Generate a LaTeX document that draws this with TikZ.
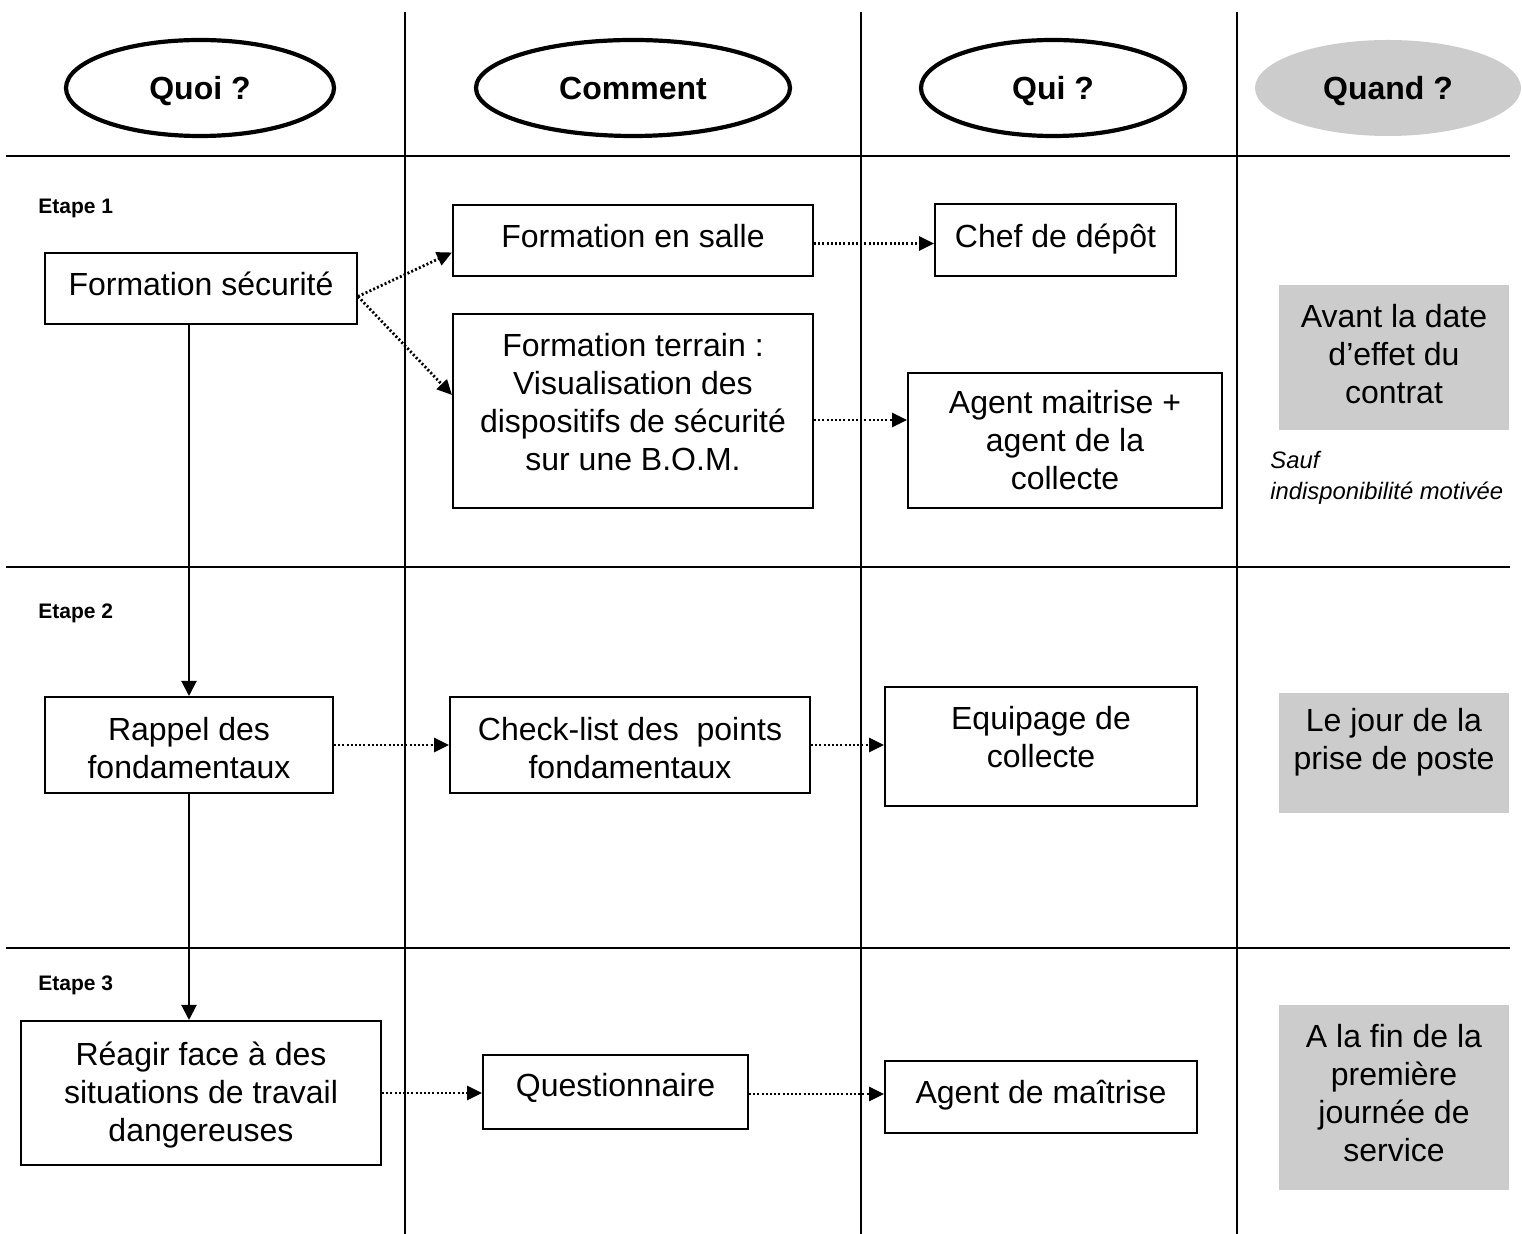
\documentclass[tikz,border=0pt]{standalone}
\usepackage{fontspec}
\setmainfont{Liberation Sans}
\usetikzlibrary{shapes.geometric,arrows.meta}
\definecolor{lightgr}{RGB}{204,204,204}
\begin{document}
\begin{tikzpicture}[x=0.5pt,y=-0.5pt,
  txt/.style={font=\fontsize{16}{19}\selectfont, align=center, inner sep=0pt},
  box/.style={draw, line width=1pt, inner sep=0pt},
  graybox/.style={fill=lightgr, inner sep=0pt},
  head/.style={ellipse, draw, line width=2.1pt, inner sep=0pt, text height=11.6pt, text depth=0pt,
    minimum width=134pt, minimum height=48pt, font=\fontsize{16}{19}\selectfont\bfseries},
  etape/.style={font=\fontsize{10.5}{12}\selectfont\bfseries, anchor=west, inner sep=0pt},
  grid/.style={line width=1pt},
  dotarrow/.style={line width=1.4pt, dash pattern=on 1pt off 1.1pt,
    -{Triangle[length=7.5pt,width=7pt]}},
  solidarrow/.style={line width=1pt, -{Triangle[length=7.5pt,width=7.5pt]}}
]
\useasboundingbox (0,0) rectangle (1522,1234);
% table lines
\draw[grid] (405,12) -- (405,1234);
\draw[grid] (861,12) -- (861,1234);
\draw[grid] (1237,12) -- (1237,1234);
\draw[grid] (6,156) -- (1510,156);
\draw[grid] (6,567) -- (1510,567);
\draw[grid] (6,948) -- (1510,948);
% headers
\node[head] (hquoi) at (200,88) {Quoi ?};
\node[head, minimum width=157pt] (hcomment) at (633,88) {Comment};
\node[head, minimum width=132pt] (hqui) at (1053,88) {Qui ?};
\node[head, draw=none, fill=lightgr, minimum width=133pt] (hquand) at (1388,88) {Quand ?};
% etapes
\node[etape] (e1) at (38,208) {Etape 1};
\node[etape] (e2) at (38,613) {Etape 2};
\node[etape] (e3) at (38,985) {Etape 3};
% step 1
\node[box, minimum width=156pt, minimum height=35.5pt] (fs) at (201,288.5) {};
\node[txt] (fsT) at ([yshift=2.5pt]fs.center) {Formation sécurité};
\node[box, minimum width=180pt, minimum height=35.5pt] (salle) at (633,240.5) {};
\node[txt] (salleT) at ([yshift=2pt]salle.center) {Formation en salle};
\node[box, minimum width=180pt, minimum height=97pt] (terrain) at (633,411) {};
\node[txt] (terrainT) at ([yshift=4.5pt]terrain.center) {Formation terrain :\\Visualisation des\\dispositifs de sécurité\\sur une B.O.M.};
\node[box, minimum width=120.5pt, minimum height=36pt] (chef) at (1055.5,240) {};
\node[txt] (chefT) at ([yshift=0.5pt]chef.center) {Chef de dépôt};
\node[box, minimum width=157pt, minimum height=67.5pt] (agent) at (1065,440.5) {};
\node[txt] (agentT) at (agent.center) {Agent maitrise +\\agent de la\\collecte};
\node[graybox, minimum width=115pt, minimum height=72.5pt] (avant) at (1394,357.5) {};
\node[txt] (avantT) at ([yshift=1.5pt]avant.center) {Avant la date\\d’effet du\\contrat};
\node[font=\fontsize{11.9}{15.5}\selectfont\itshape, align=left, anchor=west, inner sep=0pt] (sauf) at (1270,477.5) {Sauf\\indisponibilité motivée};
% step 2
\node[box, minimum width=144pt, minimum height=48pt] (rappel) at (189,745) {};
\node[txt] (rappelT) at ([yshift=-1.5pt]rappel.center) {Rappel des\\fondamentaux};
\node[box, minimum width=180pt, minimum height=48pt] (check) at (630,745) {};
\node[txt] (checkT) at ([yshift=-1.5pt]check.center) {Check-list des~ points\\fondamentaux};
\node[box, minimum width=156pt, minimum height=59.5pt] (equip) at (1041,746.5) {};
\node[txt] (equipT) at ([yshift=4.75pt]equip.center) {Equipage de\\collecte};
\node[graybox, minimum width=115pt, minimum height=60pt] (jour) at (1394,753) {};
\node[txt] (jourT) at ([yshift=5.5pt]jour.center) {Le jour de la\\prise de poste};
% step 3
\node[box, minimum width=180pt, minimum height=72pt] (reagir) at (201,1093) {};
\node[txt] (reagirT) at ([yshift=-1pt]reagir.center) {Réagir face à des\\situations de travail\\dangereuses};
\node[box, minimum width=132.5pt, minimum height=37pt] (quest) at (615.5,1092) {};
\node[txt] (questT) at ([yshift=2pt]quest.center) {Questionnaire};
\node[box, minimum width=156pt, minimum height=36pt] (am) at (1041,1097) {};
\node[txt] (amT) at ([yshift=1pt]am.center) {Agent de maîtrise};
\node[graybox, minimum width=115pt, minimum height=92.5pt] (fin) at (1394,1097.5) {};
\node[txt] (finT) at ([yshift=2pt]fin.center) {A la fin de la\\première\\journée de\\service};
% arrows
\draw[dotarrow] ([yshift=-4pt]fs.east) -- ([yshift=-6pt]salle.west);
\draw[dotarrow] ([yshift=-4pt]fs.east) -- ([yshift=8pt]terrain.west);
\draw[dotarrow] ([yshift=-1.5pt]salle.east) -- ([yshift=-1.5pt]salle.east -| chef.west);
\draw[dotarrow] ([yshift=-4.5pt]terrain.east) -- ([yshift=-4.5pt]terrain.east -| agent.west);
\draw[solidarrow] (fs.south -| rappel.north) -- (rappel.north);
\draw[solidarrow] (rappel.south) -- (rappel.south |- reagir.north);
\draw[dotarrow] (rappel.east) -- (rappel.east -| check.west);
\draw[dotarrow] (check.east) -- (check.east -| equip.west);
\draw[dotarrow] (reagir.east) -- (reagir.east -| quest.west);
\draw[dotarrow] ([yshift=-1pt]quest.east) -- ([yshift=-1pt]quest.east -| am.west);
\end{tikzpicture}
\end{document}
